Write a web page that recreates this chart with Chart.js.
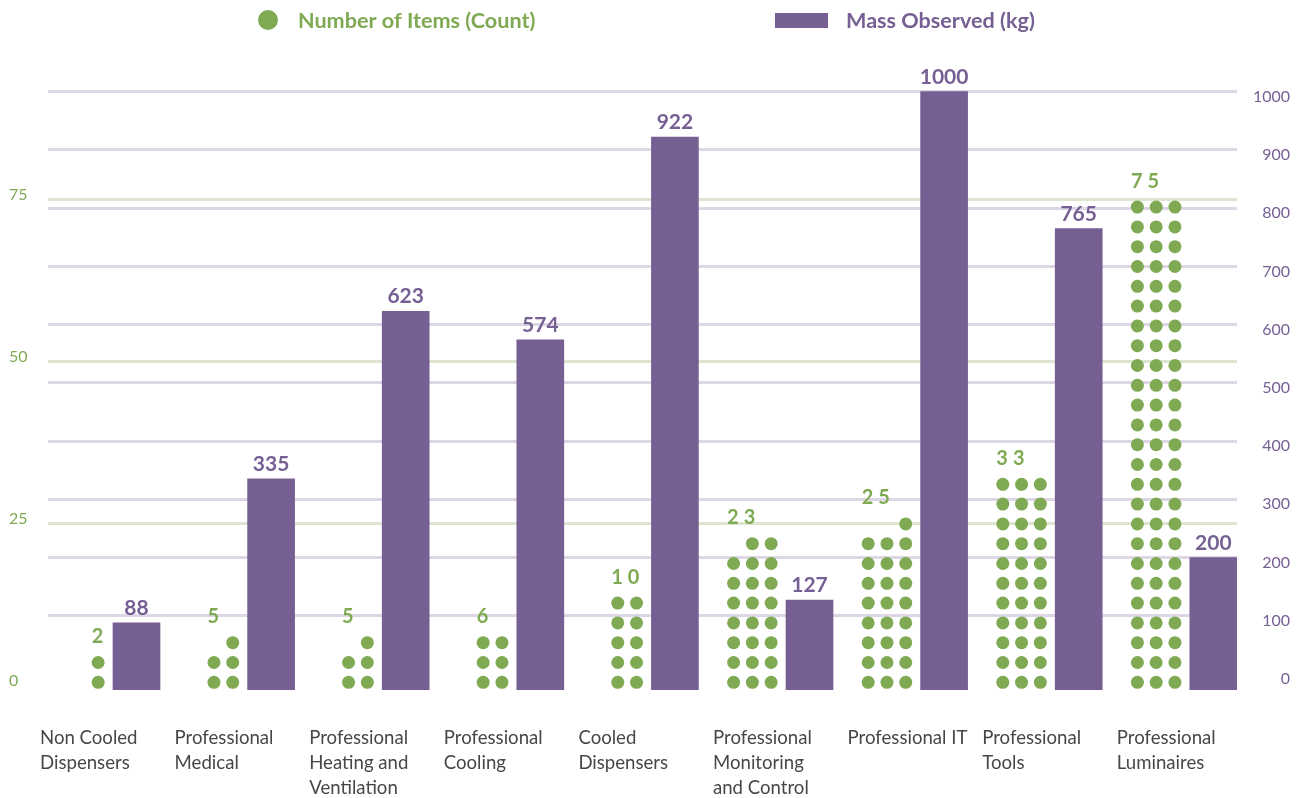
<!DOCTYPE html>
<html>
<head>
<meta charset="utf-8">
<script src="https://cdn.jsdelivr.net/npm/chart.js@4.4.1/dist/chart.umd.min.js"></script>
<style>
  html, body { margin: 0; padding: 0; background: #fff; }
  #wrap { width: 1301px; height: 798px; position: relative; }
</style>
</head>
<body>
<div id="wrap"><canvas id="chart"></canvas></div>
<script>
// data
const categories = [
  ['Non Cooled', 'Dispensers'],
  ['Professional', 'Medical'],
  ['Professional', 'Heating and', 'Ventilation'],
  ['Professional', 'Cooling'],
  ['Cooled', 'Dispensers'],
  ['Professional', 'Monitoring', 'and Control'],
  ['Professional IT'],
  ['Professional', 'Tools'],
  ['Professional', 'Luminaires']
];
const itemCounts = [2, 5, 5, 6, 10, 23, 25, 33, 75];
const massKg = [88, 335, 623, 574, 922, 127, 1000, 765, 200];
const countTicks = [0, 25, 50, 75];
const massTicks = [0, 100, 200, 300, 400, 500, 600, 700, 800, 900, 1000];
const seriesNames = ['Number of Items (Count)', 'Mass Observed (kg)'];

const GREEN = '#7faa53';
const PURPLE = '#765f93';
const GRID_PURPLE = '#ddd7e5';
const GRID_GREEN = '#dde5d1';
const TEXT = '#474747';

const DOT_R = 6.5;
const COL_STEP = 0.1395;   // column spacing, x units
const COL_RIGHT = -0.285;  // rightmost dot column relative to bar
const MASS_MIN = -27.5;

// one dot per item, stacked in rows of 1-3 from the bottom
const colsFor = n => (n <= 2 ? 1 : n <= 10 ? 2 : 3);
const dotPoints = [];
const dotGroups = [];
itemCounts.forEach((n, i) => {
  const cols = colsFor(n);
  const start = dotPoints.length;
  for (let k = 0; k < n; k++) {
    const row = Math.floor(k / cols);
    const fromRight = k % cols;
    dotPoints.push({ x: i + COL_RIGHT - fromRight * COL_STEP, y: row });
  }
  dotGroups.push({ start, n, cols });
});

Chart.defaults.font.family = 'Lato';

const labelsPlugin = {
  id: 'labels',
  afterDatasetsDraw(chart) {
    const ctx = chart.ctx;
    ctx.save();
    // mass values above bars
    ctx.font = 'bold 21px Lato';
    ctx.fillStyle = PURPLE;
    ctx.textAlign = 'center';
    ctx.textBaseline = 'bottom';
    chart.getDatasetMeta(0).data.forEach((bar, i) => {
      ctx.fillText(String(massKg[i]), bar.x, bar.y - 4);
    });
    // counts above dot stacks
    const pts = chart.getDatasetMeta(1).data;
    ctx.font = 'bold 20px Lato';
    ctx.fillStyle = GREEN;
    ctx.textAlign = 'left';
    ctx.textBaseline = 'middle';
    dotGroups.forEach((g, i) => {
      const grp = pts.slice(g.start, g.start + g.n);
      const top = Math.min(...grp.map(p => p.y));
      let x = Math.min(...grp.map(p => p.x)) - DOT_R;
      for (const ch of String(itemCounts[i])) {
        ctx.fillText(ch, x, top - 26);
        x += ctx.measureText(ch).width + 5;
      }
    });
    ctx.restore();
  },
  afterDraw(chart) {
    const ctx = chart.ctx;
    ctx.save();
    ctx.font = 'bold 21.6px Lato';
    ctx.textBaseline = 'middle';
    ctx.textAlign = 'left';
    ctx.fillStyle = GREEN;
    ctx.beginPath();
    ctx.arc(268, 20, 10, 0, Math.PI * 2);
    ctx.fill();
    ctx.fillText(seriesNames[0], 298, 21);
    ctx.fillStyle = PURPLE;
    ctx.fillRect(775, 13, 53, 15);
    ctx.fillText(seriesNames[1], 846, 21);
    ctx.restore();
  }
};

new Chart(document.getElementById('chart'), {
  type: 'bar',
  data: {
    datasets: [
      {
        label: seriesNames[1],
        data: massKg.map((v, i) => ({ x: i, y: v })),
        yAxisID: 'yMass',
        backgroundColor: PURPLE,
        barThickness: 47,
        base: MASS_MIN,
        order: 2
      },
      {
        type: 'scatter',
        label: seriesNames[0],
        data: dotPoints,
        yAxisID: 'yDots',
        pointRadius: DOT_R,
        pointHoverRadius: DOT_R,
        pointBackgroundColor: GREEN,
        pointBorderWidth: 0,
        order: 1
      }
    ]
  },
  options: {
    responsive: true,
    maintainAspectRatio: false,
    animation: false,
    layout: { padding: { top: 60, left: 9, right: 11, bottom: 0 } },
    plugins: {
      legend: { display: false },
      tooltip: { enabled: false }
    },
    scales: {
      x: {
        type: 'linear',
        min: -0.6575,
        max: 8.176,
        offset: false,
        grid: { display: false, offset: false },
        border: { display: false },
        afterBuildTicks: s => { s.ticks = categories.map((_, i) => ({ value: i })); },
        afterFit: s => { s.height = 108; s.paddingLeft = 0; s.paddingRight = 0; },
        ticks: {
          autoSkip: false,
          maxRotation: 0,
          minRotation: 0,
          align: 'start',
          labelOffset: -96.5,
          padding: 27.5,
          color: TEXT,
          font: { size: 18.6, lineHeight: 1.344 },
          callback: v => categories[v]
        }
      },
      yCount: {
        position: 'left',
        min: -0.617,
        max: 96.6,
        grid: {
          color: c => (c.tick && c.tick.value > 0 ? GRID_GREEN : 'rgba(0,0,0,0)'),
          lineWidth: 3,
          drawTicks: false
        },
        border: { display: false },
        afterBuildTicks: s => { s.ticks = countTicks.map(v => ({ value: v })); },
        afterFit: s => { s.width = 39; },
        ticks: { color: GREEN, font: { size: 16 }, crossAlign: 'far', labelOffset: -5, padding: 0 }
      },
      yMass: {
        position: 'right',
        min: MASS_MIN,
        max: 1054.4,
        grid: {
          color: c => (c.tick && c.tick.value > 0 ? GRID_PURPLE : 'rgba(0,0,0,0)'),
          lineWidth: 3,
          drawTicks: false
        },
        border: { display: false },
        afterBuildTicks: s => { s.ticks = massTicks.map(v => ({ value: v })); },
        afterFit: s => { s.width = 53; },
        ticks: {
          color: PURPLE,
          font: { size: 16 },
          crossAlign: 'far',
          labelOffset: 5,
          padding: 0,
          callback: v => String(v)
        }
      },
      yDots: {
        display: false,
        min: -0.389,
        max: 31.429
      }
    }
  },
  plugins: [labelsPlugin]
});
</script>
</body>
</html>
